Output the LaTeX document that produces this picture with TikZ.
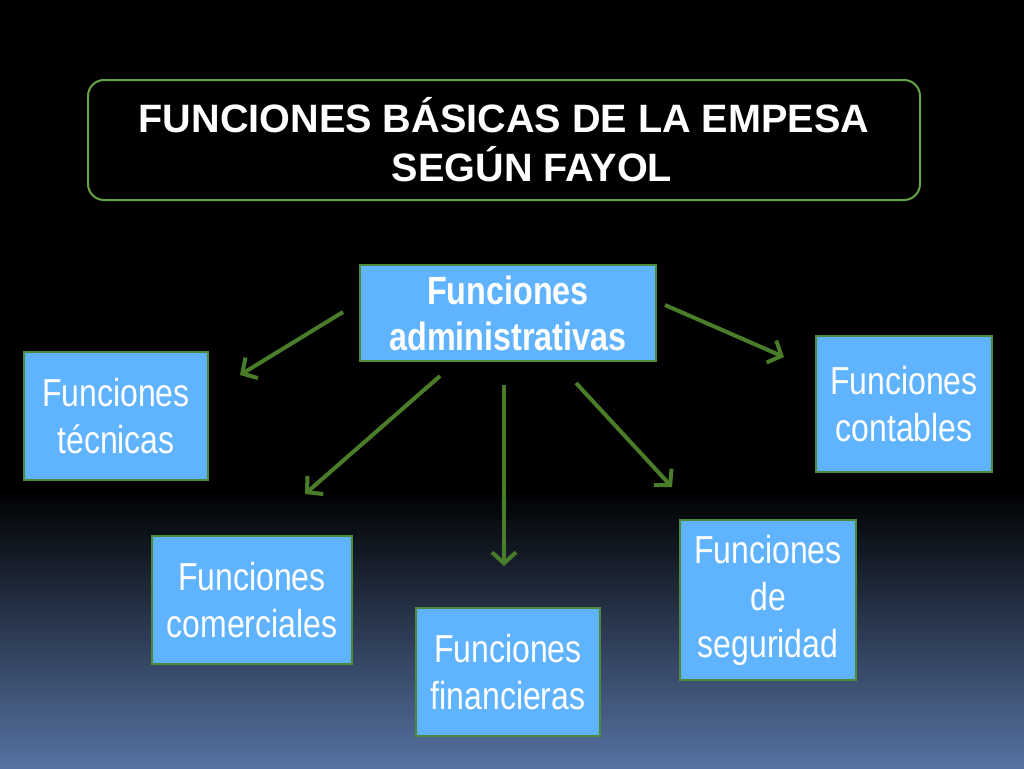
\documentclass[tikz,border=0pt]{standalone}
\usepackage{fontspec}
\setmainfont{Liberation Sans}
\newfontfamily\narrowfont[FakeStretch=0.82]{Liberation Sans}
\usetikzlibrary{arrows.meta}
\definecolor{boxfill}{HTML}{5FB3FF}
\definecolor{boxline}{HTML}{4E8A3A}
\definecolor{arrowgreen}{HTML}{4A7D2A}
\definecolor{titleline}{HTML}{64A443}
\definecolor{bottomblue}{HTML}{5672A2}
\tikzset{
  fbox/.style={draw=boxline, line width=2.5pt, fill=boxfill, text=white,
    align=center, inner sep=0pt, font=\narrowfont\fontsize{39}{47}\selectfont},
  conn/.style={draw=arrowgreen, line width=4pt,
    -{Straight Barb[length=11pt,width=24pt,line width=4pt]}},
}
\begin{document}
\begin{tikzpicture}[x=1pt,y=-1pt]
\useasboundingbox (0,0) rectangle (1024,768);
\fill[black] (0,0) rectangle (1024,492);
\shade[top color=black, bottom color=bottomblue] (0,490) rectangle (1024,768);
% title
\node[draw=titleline, line width=2pt, rounded corners=16pt, fill=black,
  minimum width=832pt, minimum height=120pt, inner sep=0pt,
  text=white, align=center, font=\bfseries\fontsize{39.6}{49}\selectfont]
  (title) at (504,140) {FUNCIONES BÁSICAS DE LA EMPESA\\\hspace*{56pt}SEGÚN FAYOL};
% boxes
\node[fbox, minimum width=296pt, minimum height=96pt,
  font=\narrowfont\bfseries\fontsize{39.4}{46}\selectfont] (admin) at (508,313)
  {Funciones\\administrativas};
\node[fbox, minimum width=184pt, minimum height=128pt] (tec) at (116,416) {Funciones\\técnicas};
\node[fbox, minimum width=176pt, minimum height=136pt] (cont) at (904,404) {Funciones\\contables};
\node[fbox, minimum width=200pt, minimum height=128pt] (com) at (252,600) {Funciones\\comerciales};
\node[fbox, minimum width=184pt, minimum height=128pt] (fin) at (508,672) {Funciones\\financieras};
\node[fbox, minimum width=176pt, minimum height=160pt] (seg) at (768,600) {Funciones\\de\\seguridad};
% arrow endpoints
\coordinate (s1) at (343,312); \coordinate (e1) at (240,375);
\coordinate (s2) at (665,305); \coordinate (e2) at (784,357);
\coordinate (s3) at (440,376); \coordinate (e3) at (305,494);
\coordinate (s4) at (504,385); \coordinate (e4) at (504,566);
\coordinate (s5) at (576,383); \coordinate (e5) at (672,487);
\draw[conn] (s1) -- (e1);
\draw[conn] (s2) -- (e2);
\draw[conn] (s3) -- (e3);
\draw[conn] (s4) -- (e4);
\draw[conn] (s5) -- (e5);
\end{tikzpicture}
\end{document}
